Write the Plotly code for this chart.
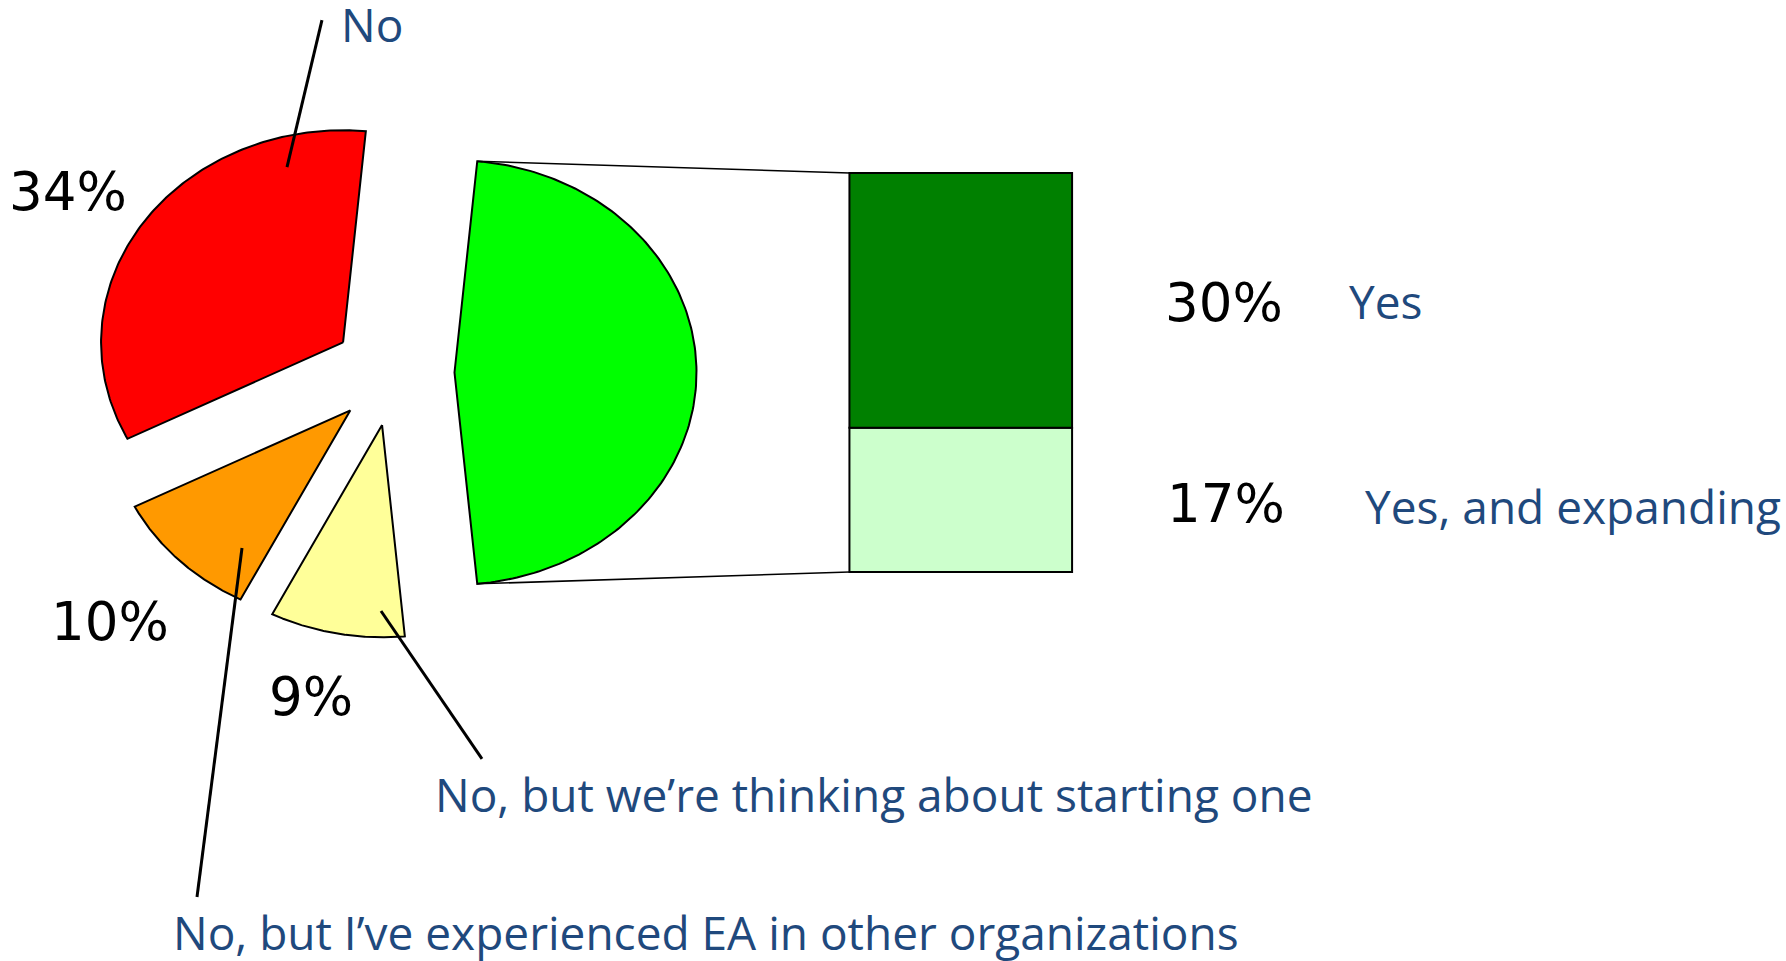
import numpy as np
import plotly.graph_objects as go

# Survey answers: the "No" group goes into the pie, the "Yes" group is split out into the bar
pie_labels = ["No",
              "No, but I’ve experienced EA in other organizations",
              "No, but we’re thinking about starting one"]
pie_values = [34, 10, 9]
pie_colors = ["#FF0000", "#FF9900", "#FFFF99"]

bar_labels = ["Yes", "Yes, and expanding"]
bar_values = [30, 17]
bar_colors = ["#008000", "#CCFFCC"]
other_color = "#00FF00"

BLUE = "#1F497D"
TEXT_FONT = "Open Sans, sans-serif"
PCT_FONT = "DejaVu Sans, sans-serif"

R = 25.0          # pie radius (same units as the bar's percentage scale)
EXPLODE = 6.3     # distance each slice is pulled away from the centre
BAR_X = 58.6      # bar centre
BAR_W = 23.0      # bar width

total = sum(pie_values) + sum(bar_values)
other = sum(bar_values)


def wedge(a0, a1, offset):
    """Outline of a pie slice between angles a0..a1 (deg, clockwise from 12 o'clock)."""
    mid = np.radians((a0 + a1) / 2)
    cx, cy = offset * np.sin(mid), offset * np.cos(mid)
    t = np.radians(np.linspace(a0, a1, 160))
    xs = np.concatenate([[cx], cx + R * np.sin(t), [cx]])
    ys = np.concatenate([[cy], cy + R * np.cos(t), [cy]])
    return xs, ys, cx, cy


fig = go.Figure()

# "Other" slice: centred on 3 o'clock, facing the bar
span_other = other / total * 360
g0, g1 = 90 - span_other / 2, 90 + span_other / 2
gx, gy, gcx, gcy = wedge(g0, g1, EXPLODE)
fig.add_trace(go.Scatter(x=gx, y=gy, fill="toself", fillcolor=other_color,
                         mode="lines", line=dict(color="black", width=2),
                         hoverinfo="skip"))

# Remaining slices continue clockwise after the "other" slice
angle = g1
for lab, val, col in reversed(list(zip(pie_labels, pie_values, pie_colors))):
    span = val / total * 360
    xs, ys, _, _ = wedge(angle, angle + span, EXPLODE)
    fig.add_trace(go.Scatter(x=xs, y=ys, fill="toself", fillcolor=col,
                             mode="lines", line=dict(color="black", width=2),
                             name=lab, hoverinfo="skip"))
    angle += span

# Stacked bar breaking down the "other" slice, centred vertically on the pie
bar_bottom = -other / 2
stack_order = list(zip(bar_labels, bar_values, bar_colors))[::-1]  # smallest at the bottom
base = bar_bottom
for lab, val, col in stack_order:
    fig.add_trace(go.Bar(x=[BAR_X], y=[val], base=[base], width=BAR_W,
                         marker=dict(color=col, line=dict(color="black", width=2)),
                         name=lab, hoverinfo="skip"))
    base += val

# Connector lines from the slice edges to the bar corners
bar_left = BAR_X - BAR_W / 2
for a, yb in [(g0, bar_bottom + other), (g1, bar_bottom)]:
    ex = gcx + R * np.sin(np.radians(a))
    ey = gcy + R * np.cos(np.radians(a))
    fig.add_trace(go.Scatter(x=[ex, bar_left], y=[ey, yb], mode="lines",
                             line=dict(color="black", width=1.6), hoverinfo="skip"))

# Leader lines for the category labels
leaders = [((-7.39, 41.52), (-11.00, 24.20)),
           ((-15.65, -20.67), (-20.30, -61.78)),
           ((-1.29, -28.09), (9.14, -45.52))]
for (x0, y0), (x1, y1) in leaders:
    fig.add_shape(type="line", x0=x0, y0=y0, x1=x1, y1=y1,
                  line=dict(color="black", width=3))

# Percentage labels
pct_pos = {"No": (-33.63, 21.38),
           pie_labels[1]: (-29.29, -29.27),
           pie_labels[2]: (-8.52, -38.22),
           "Yes": (85.80, 8.30),
           "Yes, and expanding": (86.00, -15.37)}
for lab, val in zip(pie_labels + bar_labels, pie_values + bar_values):
    x, y = pct_pos[lab]
    fig.add_annotation(x=x, y=y, text=f"{val}%", showarrow=False,
                       xanchor="center", yanchor="middle",
                       font=dict(family=PCT_FONT, size=53, color="black"))

# Category labels
cat_pos = {"No": (-5.63, 41.0),
           pie_labels[1]: (-22.99, -65.9),
           pie_labels[2]: (4.08, -49.66),
           "Yes": (98.50, 8.42),
           "Yes, and expanding": (100.2, -15.72)}
for lab in pie_labels + bar_labels:
    x, y = cat_pos[lab]
    fig.add_annotation(x=x, y=y, text=lab, showarrow=False,
                       xanchor="left", yanchor="middle",
                       font=dict(family=TEXT_FONT, size=46, color=BLUE))

fig.update_layout(
    width=1786, height=961,
    margin=dict(l=0, r=0, t=0, b=0),
    paper_bgcolor="white", plot_bgcolor="white",
    showlegend=False, barmode="overlay",
    xaxis=dict(range=[-40.65, 143.85], visible=False, fixedrange=True),
    yaxis=dict(range=[-69.32, 43.88], visible=False, fixedrange=True),
)

fig.write_html("out.html")
